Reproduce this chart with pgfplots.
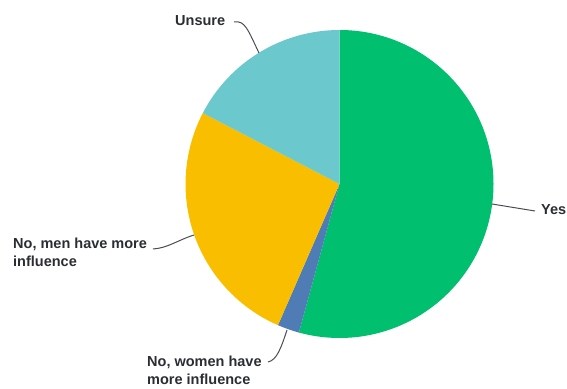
\documentclass[border=0pt]{standalone}
\usepackage{fontspec}
\setmainfont{Liberation Sans}
\usepackage{pgfplots}
\usepackage{pgfplotstable}
\pgfplotsset{compat=1.18}
\definecolor{cyes}{HTML}{00BF6F}
\definecolor{cwomen}{HTML}{507CB6}
\definecolor{cmen}{HTML}{F9BE00}
\definecolor{cunsure}{HTML}{6BC8CD}
\definecolor{ctext}{HTML}{2A2E33}
\pgfplotstableread{
answer value
Yes 54.3
Women 2.3
Men 26.1
Unsure 17.4
}\piedata
\pgfplotstablegetelem{0}{value}\of\piedata\let\vA\pgfplotsretval
\pgfplotstablegetelem{1}{value}\of\piedata\let\vB\pgfplotsretval
\pgfplotstablegetelem{2}{value}\of\piedata\let\vC\pgfplotsretval
\pgfplotstablegetelem{3}{value}\of\piedata\let\vD\pgfplotsretval
\pgfmathsetmacro\vTot{\vA+\vB+\vC+\vD}
\pgfmathsetmacro\sc{360/\vTot}
\pgfmathsetmacro\aA{90}
\pgfmathsetmacro\aB{90-\sc*\vA}
\pgfmathsetmacro\aC{\aB-\sc*\vB}
\pgfmathsetmacro\aD{\aC-\sc*\vC}
\pgfmathsetmacro\aE{-270}
\begin{document}
\begin{tikzpicture}
\begin{axis}[x=1pt,y=1pt,xmin=0,xmax=567,ymin=0,ymax=388,hide axis,clip=false,anchor=origin]
\path (axis cs:0,0) rectangle (axis cs:567,388);
\def\cx{339.5}\def\cy{204}\def\R{154pt}
\fill[cyes] (axis cs:\cx,\cy) -- ++(\aA:\R) arc[start angle=\aA,end angle=\aB,radius=\R] -- cycle;
\fill[cwomen] (axis cs:\cx,\cy) -- ++(\aB:\R) arc[start angle=\aB,end angle=\aC,radius=\R] -- cycle;
\fill[cmen] (axis cs:\cx,\cy) -- ++(\aC:\R) arc[start angle=\aC,end angle=\aD,radius=\R] -- cycle;
\fill[cunsure] (axis cs:\cx,\cy) -- ++(\aD:\R) arc[start angle=\aD,end angle=\aE,radius=\R] -- cycle;
% leader lines
\draw[ctext!85,line width=1pt] (axis cs:492,184) -- (axis cs:535,177);
\draw[ctext!85,line width=1pt] (axis cs:234,366) .. controls (axis cs:245,368) and (axis cs:248,358) .. (axis cs:259,335);
\draw[ctext!85,line width=1pt] (axis cs:153,139) .. controls (axis cs:168,140) and (axis cs:178,148) .. (axis cs:194,153);
\draw[ctext!85,line width=1pt] (axis cs:268,26) .. controls (axis cs:277,28) and (axis cs:281,40) .. (axis cs:287,58);
% labels
\node[anchor=west,inner sep=0pt,text=ctext,font=\bfseries\fontsize{14.5}{18}\selectfont] at (axis cs:541,178) {Yes};
\node[anchor=west,inner sep=0pt,text=ctext,font=\bfseries\fontsize{14.5}{18}\selectfont] at (axis cs:175,367) {Unsure};
\node[anchor=north west,inner sep=0pt,align=left,text=ctext,font=\bfseries\fontsize{14.5}{18}\selectfont] at (axis cs:13,150) {No, men have more\\influence};
\node[anchor=north west,inner sep=0pt,align=left,text=ctext,font=\bfseries\fontsize{14.5}{18}\selectfont] at (axis cs:147,32) {No, women have\\more influence};
\end{axis}
\end{tikzpicture}
\end{document}
